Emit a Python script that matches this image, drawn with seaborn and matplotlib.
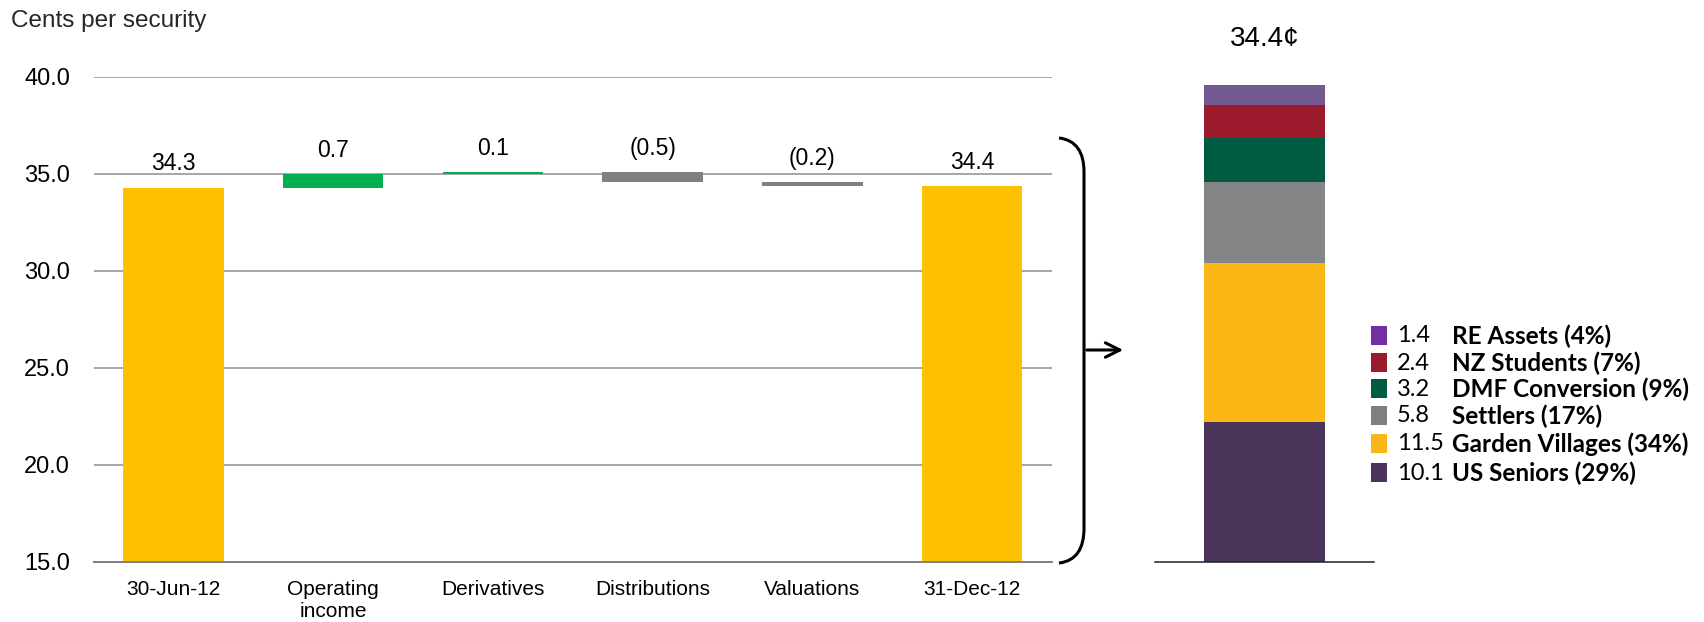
import numpy as np
import pandas as pd
import matplotlib
matplotlib.use("Agg")
import matplotlib.pyplot as plt
from matplotlib.path import Path
from matplotlib.patches import PathPatch, FancyArrowPatch, Rectangle
import seaborn as sns

# Waterfall: movement in cents per security
steps = ["30-Jun-12", "Operating\nincome", "Derivatives", "Distributions", "Valuations", "31-Dec-12"]
step_values = [34.3, 0.7, 0.1, -0.5, -0.2, 34.4]
step_kinds = ["total", "delta", "delta", "delta", "delta", "total"]
step_labels = ["34.3", "0.7", "0.1", "(0.5)", "(0.2)", "34.4"]
y_ticks = [15.0, 20.0, 25.0, 30.0, 35.0, 40.0]

# Composition of the closing value
segments = ["US Seniors", "Garden Villages", "Settlers", "DMF Conversion", "NZ Students", "RE Assets"]
segment_values = [10.1, 11.5, 5.8, 3.2, 2.4, 1.4]
segment_pcts = [29, 34, 17, 9, 7, 4]
segment_total = 34.4

YELLOW = "#FFC000"
GREEN = "#00B050"
GREY = "#808080"
seg_colors = ["#4B355B", "#FBB715", "#848587", "#005C40", "#9B1B2C", "#725A91"]
key_colors = ["#4B355B", "#FBB715", "#7F7F7F", "#005C40", "#9B1B2C", "#7030A0"]

sns.set_style("white")
plt.rcParams["font.family"] = ["Liberation Sans", "DejaVu Sans"]

W, H = 1704, 622
fig = plt.figure(figsize=(W / 100, H / 100), dpi=100)


def fx(x):
    return x / W


def fy(y):
    return 1 - y / H


ax = fig.add_axes([fx(93.5), fy(562), (1052 - 93.5) / W, (562 - 77) / H])

# bar extents for the waterfall
bottoms, heights, colors = [], [], []
running = 0.0
for v, k in zip(step_values, step_kinds):
    if k == "total":
        bottoms.append(0.0)
        heights.append(v)
        colors.append(YELLOW)
        running = v
    else:
        start, end = running, running + v
        bottoms.append(min(start, end))
        heights.append(abs(v))
        colors.append(GREEN if v > 0 else GREY)
        running = end

for name, h, b, c in zip(steps, heights, bottoms, colors):
    sns.barplot(x=[name], y=[h], order=steps, bottom=b, color=c, width=0.63,
                errorbar=None, saturation=1, linewidth=0, ax=ax)

ax.set_ylim(15, 40)
ax.set_yticks(y_ticks)
ax.set_yticklabels([f"{t:.1f}" for t in y_ticks])
ax.yaxis.grid(True, color="#A6A6A6", linewidth=1.4)
ax.set_axisbelow(True)
for s in ["top", "right", "left"]:
    ax.spines[s].set_visible(False)
ax.spines["bottom"].set_color("#7F7F7F")
ax.spines["bottom"].set_linewidth(1.4)
ax.set_xlabel("")
ax.set_ylabel("")
ax.tick_params(axis="y", length=0, labelsize=17, pad=17, labelcolor="black")
ax.tick_params(axis="x", which="major", length=0, labelsize=15, pad=13, labelcolor="black")
ax.set_xticks(np.arange(-0.5, len(steps), 1.0), minor=True)
ax.tick_params(axis="x", which="minor", length=7, width=1.2, color="#7F7F7F", direction="out")

for i, (lab, h, b) in enumerate(zip(step_labels, heights, bottoms)):
    ax.annotate(lab, xy=(i, b + h), xytext=(0, 17), textcoords="offset points",
                ha="center", va="center", fontsize=16.5, color="black")

fig.text(fx(11), fy(21), "Cents per security", fontsize=17.5, ha="left", va="center")

# Stacked composition bar
ax2 = fig.add_axes([fx(1155), fy(562), 219 / W, (562 - 77) / H])
base = 0.0
for name, v, c in zip(segments, segment_values, seg_colors):
    sns.barplot(x=["Total"], y=[v], bottom=base, color=c, width=0.55,
                errorbar=None, saturation=1, linewidth=0, ax=ax2)
    base += v
ax2.set_ylim(0, 35.0)
ax2.set_yticks([])
ax2.set_xticks([])
ax2.set_xlabel("")
ax2.set_ylabel("")
for s in ["top", "right", "left"]:
    ax2.spines[s].set_visible(False)
ax2.spines["bottom"].set_color("#202020")
ax2.spines["bottom"].set_linewidth(1.1)
ax2.annotate("34.4\u00a2", xy=(0, segment_total), xytext=(0, 33), textcoords="offset points",
             ha="center", va="center", fontsize=20, color="black")

# Bracket and arrow linking the closing bar to its breakdown
verts = [(1059, 138), (1076, 140), (1084, 152), (1084, 172),
         (1084, 528),
         (1084, 549), (1076, 561), (1059, 563)]
codes = [Path.MOVETO, Path.CURVE4, Path.CURVE4, Path.CURVE4,
         Path.LINETO,
         Path.CURVE4, Path.CURVE4, Path.CURVE4]
brace = Path([(fx(x), fy(y)) for x, y in verts], codes)
fig.add_artist(PathPatch(brace, facecolor="none", edgecolor="black", lw=2.2,
                         transform=fig.transFigure))
fig.add_artist(FancyArrowPatch((fx(1084), fy(350)), (fx(1126), fy(350)),
                               transform=fig.transFigure, arrowstyle="->",
                               mutation_scale=26, lw=2.2, color="black"))

# Key with values and shares
row_y = [472, 443, 415, 388, 362, 335]
for name, v, p, c, y in zip(segments, segment_values, segment_pcts, key_colors, row_y):
    fig.add_artist(Rectangle((fx(1371), fy(y + 9.5)), 16 / W, 19 / H,
                             transform=fig.transFigure, facecolor=c, edgecolor="none"))
    fig.text(fx(1397), fy(y + 1), f"{v:.1f}", fontsize=17, ha="left", va="center",
             family=["Lato", "DejaVu Sans"], color="black")
    fig.text(fx(1452), fy(y + 1), f"{name} ({p}%)", fontsize=17.5, ha="left", va="center",
             family=["Lato", "DejaVu Sans"], fontweight="bold", color="black")

fig.savefig("out.png", dpi=100, facecolor="white")
